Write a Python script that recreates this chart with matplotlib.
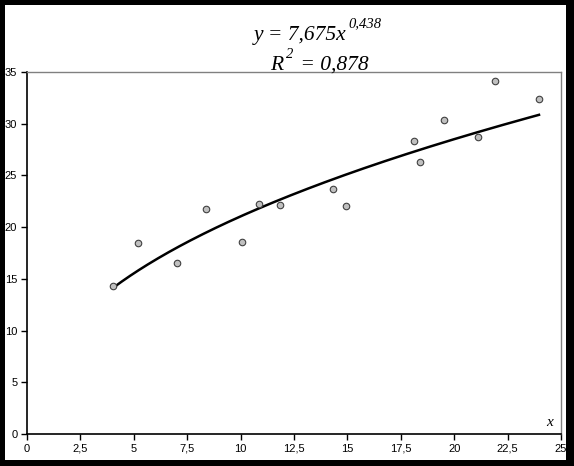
import matplotlib.pyplot as plt
import matplotlib.patches as patches
import numpy as np

plt.rcParams['font.family'] = 'Liberation Sans'

# observed points
x_obs = [4.03, 5.20, 7.02, 8.38, 10.07, 10.86, 11.84, 14.33, 14.93,
         18.12, 18.40, 19.52, 21.11, 21.91, 23.97]
y_obs = [14.31, 18.47, 16.53, 21.75, 18.56, 22.24, 22.14, 23.69, 22.04,
         28.33, 26.30, 30.36, 28.71, 34.13, 32.39]

# power trend y = a * x^b
a, b = 7.675, 0.438
r2 = 0.878

xticks = [0, 2.5, 5, 7.5, 10, 12.5, 15, 17.5, 20, 22.5, 25]
yticks = [0, 5, 10, 15, 20, 25, 30, 35]

fig = plt.figure(figsize=(5.74, 4.66), dpi=100)
fig.patch.set_facecolor('black')
fig.patches.append(patches.Rectangle((5/574, 6/466), 561/574, 455/466,
                                     transform=fig.transFigure, facecolor='white',
                                     edgecolor='none', zorder=-1))

ax = fig.add_axes([27/574, 32/466, 534/574, 362/466])
ax.set_xlim(0, 25)
ax.set_ylim(0, 35)

xs = np.linspace(min(x_obs), max(x_obs), 200)
ax.plot(xs, a * xs ** b, color='black', lw=1.8, zorder=2)
ax.scatter(x_obs, y_obs, s=22, facecolor='#c0c0c0', edgecolor='#404040',
           linewidths=0.8, zorder=3)

ax.set_xticks(xticks)
ax.set_xticklabels([str(t).replace('.', ',') for t in xticks])
ax.set_yticks(yticks)
ax.tick_params(labelsize=8, length=4, width=1, direction='out', pad=3)

for s in ['top', 'right']:
    ax.spines[s].set_color('#808080')
    ax.spines[s].set_linewidth(1)
for s in ['left', 'bottom']:
    ax.spines[s].set_color('black')
    ax.spines[s].set_linewidth(1.2)

serif = dict(family='Liberation Serif', style='italic')
ax.text(0.985, 0.015, 'x', transform=ax.transAxes, ha='right', va='bottom',
        fontsize=11, **serif)

# equation text, base + superscript placed after measuring the base
def fmt(v):
    return f'{v:.3f}'.replace('.', ',')

renderer = fig.canvas.get_renderer()
inv = fig.transFigure.inverted()

t1 = fig.text(254/574, 1 - 40/466, f'y = {fmt(a)}x', ha='left',
              va='baseline', fontsize=15.5, **serif)
bb = inv.transform(t1.get_window_extent(renderer))
fig.text(bb[1][0] + 2/574, 1 - 27/466, fmt(b), ha='left', va='baseline',
         fontsize=10.5, **serif)

t2 = fig.text(270/574, 1 - 70/466, 'R', ha='left', va='baseline',
              fontsize=15.5, **serif)
bb = inv.transform(t2.get_window_extent(renderer))
s2 = fig.text(bb[1][0] + 3/574, 1 - 58/466, '2', ha='left', va='baseline',
              fontsize=10.5, **serif)
bb = inv.transform(s2.get_window_extent(renderer))
fig.text(bb[1][0] + 2/574, 1 - 70/466, f' = {fmt(r2)}', ha='left',
         va='baseline', fontsize=15.5, **serif)

fig.savefig('out.png', dpi=100, facecolor=fig.get_facecolor())
